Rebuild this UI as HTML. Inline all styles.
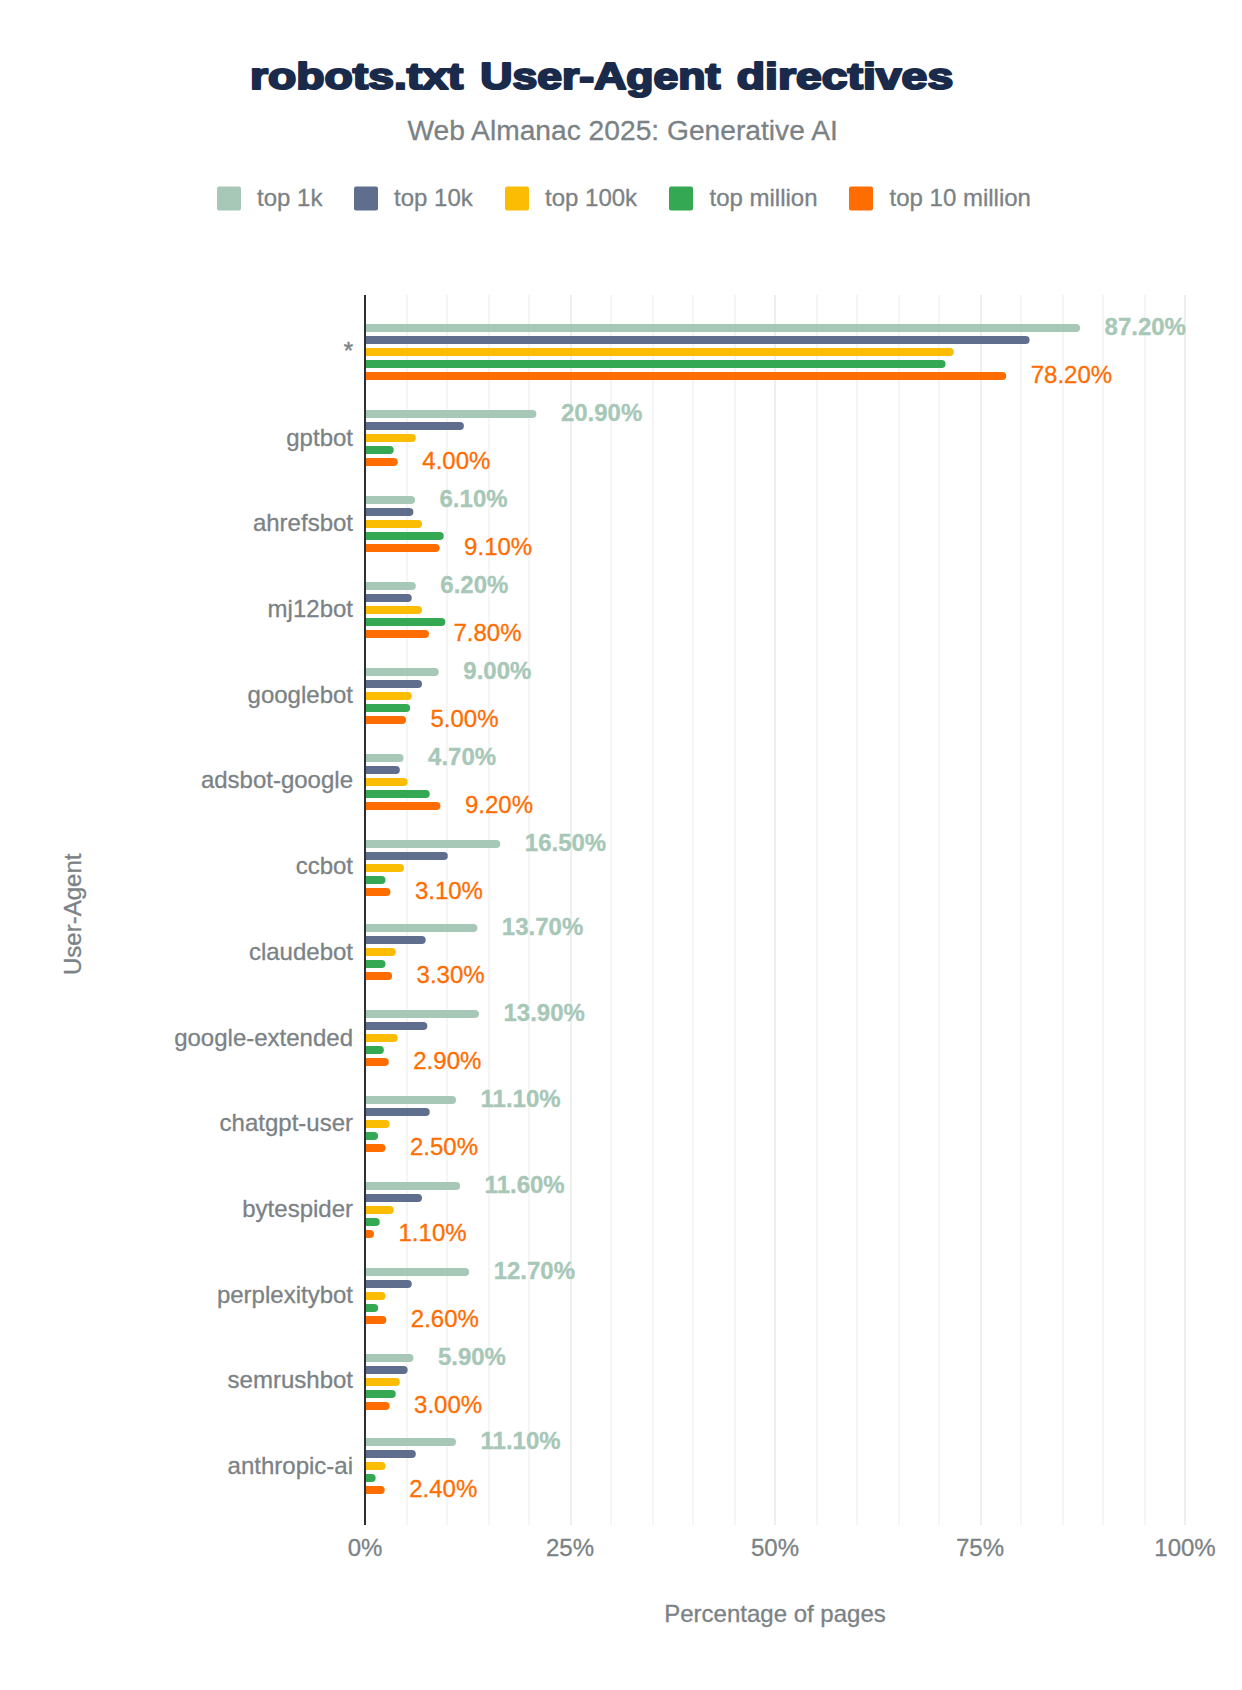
<!DOCTYPE html>
<html><head><meta charset="utf-8"><title>robots.txt User-Agent directives</title>
<style>
html,body{margin:0;padding:0;background:#fff;width:1242px;height:1690px;overflow:hidden}
svg{display:block}
text{font-family:"Liberation Sans", sans-serif}
.title{font-size:37.8px;font-weight:bold;fill:#1a2a4b;stroke:#1a2a4b;stroke-width:2.2px;stroke-linejoin:round}
.sub{font-size:28.2px;fill:#7b8285;stroke:#7b8285;stroke-width:0.3px;text-anchor:middle}
.leg{font-size:24px;fill:#7b8285;stroke:#7b8285;stroke-width:0.3px}
.cat{font-size:24px;fill:#7b8285;stroke:#7b8285;stroke-width:0.3px;text-anchor:end}
.tick{font-size:24px;fill:#7b8285;stroke:#7b8285;stroke-width:0.3px;text-anchor:middle}
.axt{font-size:24px;fill:#7b8285;stroke:#7b8285;stroke-width:0.3px;text-anchor:middle}
.lb1{font-size:24px;font-weight:bold;fill:#a7c7b7;stroke:#a7c7b7;stroke-width:0.3px}
.lb5{font-size:24px;fill:#ff6d01;stroke:#ff6d01;stroke-width:0.3px}
</style></head>
<body>
<svg width="1242" height="1690" viewBox="0 0 1242 1690">
<rect width="1242" height="1690" fill="#fff"/>
<text x="100" y="89.4" class="title" transform="translate(127.72 0) scale(1.2236 1)">robots.txt</text>
<text x="100" y="89.4" class="title" transform="translate(362.43 0) scale(1.1789 1)">User-Agent</text>
<text x="100" y="89.4" class="title" transform="translate(614.15 0) scale(1.2263 1)">directives</text>
<text x="622.6" y="140" class="sub">Web Almanac 2025: Generative AI</text>
<rect x="217" y="186.5" width="24" height="24" rx="2" fill="#a7c7b7"/>
<text x="257" y="206" class="leg">top 1k</text>
<rect x="354" y="186.5" width="24" height="24" rx="2" fill="#5f6e8c"/>
<text x="394" y="206" class="leg">top 10k</text>
<rect x="505" y="186.5" width="24" height="24" rx="2" fill="#fbbc04"/>
<text x="545" y="206" class="leg">top 100k</text>
<rect x="669" y="186.5" width="24" height="24" rx="2" fill="#34a853"/>
<text x="709.5" y="206" class="leg">top million</text>
<rect x="849" y="186.5" width="24" height="24" rx="2" fill="#ff6d01"/>
<text x="889.5" y="206" class="leg">top 10 million</text>
<rect x="406" y="295" width="2" height="1230" fill="#f5f5f5"/>
<rect x="446" y="295" width="2" height="1230" fill="#f5f5f5"/>
<rect x="488" y="295" width="2" height="1230" fill="#f5f5f5"/>
<rect x="528" y="295" width="2" height="1230" fill="#f5f5f5"/>
<rect x="570" y="295" width="2" height="1230" fill="#efeeef"/>
<rect x="610" y="295" width="2" height="1230" fill="#f5f5f5"/>
<rect x="652" y="295" width="2" height="1230" fill="#f5f5f5"/>
<rect x="692" y="295" width="2" height="1230" fill="#f5f5f5"/>
<rect x="734" y="295" width="2" height="1230" fill="#f5f5f5"/>
<rect x="774" y="295" width="2" height="1230" fill="#efeeef"/>
<rect x="816" y="295" width="2" height="1230" fill="#f5f5f5"/>
<rect x="856" y="295" width="2" height="1230" fill="#f5f5f5"/>
<rect x="898" y="295" width="2" height="1230" fill="#f5f5f5"/>
<rect x="938" y="295" width="2" height="1230" fill="#f5f5f5"/>
<rect x="980" y="295" width="2" height="1230" fill="#efeeef"/>
<rect x="1020" y="295" width="2" height="1230" fill="#f5f5f5"/>
<rect x="1062" y="295" width="2" height="1230" fill="#f5f5f5"/>
<rect x="1102" y="295" width="2" height="1230" fill="#f5f5f5"/>
<rect x="1144" y="295" width="2" height="1230" fill="#f5f5f5"/>
<rect x="1184" y="295" width="2" height="1230" fill="#efeeef"/>
<path d="M365 324H1076.04A4 4 0 0 1 1080.04 328A4 4 0 0 1 1076.04 332H365Z" fill="#a7c7b7"/>
<path d="M365 336H1025.61A4 4 0 0 1 1029.61 340A4 4 0 0 1 1025.61 344H365Z" fill="#5f6e8c"/>
<path d="M365 348H949.76A4 4 0 0 1 953.76 352A4 4 0 0 1 949.76 356H365Z" fill="#fbbc04"/>
<path d="M365 360H941.56A4 4 0 0 1 945.56 364A4 4 0 0 1 941.56 368H365Z" fill="#34a853"/>
<path d="M365 372H1002.24A4 4 0 0 1 1006.24 376A4 4 0 0 1 1002.24 380H365Z" fill="#ff6d01"/>
<text x="1104.54" y="334.5" class="lb1">87.20%</text>
<text x="1030.74" y="382.5" class="lb5">78.20%</text>
<text x="353" y="358.6" class="cat" style="stroke:#7b8285;stroke-width:0.45px">*</text>
<path d="M365 410H532.38A4 4 0 0 1 536.38 414A4 4 0 0 1 532.38 418H365Z" fill="#a7c7b7"/>
<path d="M365 422H459.89A4 4 0 0 1 463.89 426A4 4 0 0 1 459.89 430H365Z" fill="#5f6e8c"/>
<path d="M365 434H411.84A4 4 0 0 1 415.84 438A4 4 0 0 1 411.84 442H365Z" fill="#fbbc04"/>
<path d="M365 446H389.7A4 4 0 0 1 393.7 450A4 4 0 0 1 389.7 454H365Z" fill="#34a853"/>
<path d="M365 458H393.8A4 4 0 0 1 397.8 462A4 4 0 0 1 393.8 466H365Z" fill="#ff6d01"/>
<text x="560.88" y="420.5" class="lb1">20.90%</text>
<text x="422.3" y="468.5" class="lb5">4.00%</text>
<text x="353" y="445.69" class="cat">gptbot</text>
<path d="M365 496H411.02A4 4 0 0 1 415.02 500A4 4 0 0 1 411.02 504H365Z" fill="#a7c7b7"/>
<path d="M365 508H409.38A4 4 0 0 1 413.38 512A4 4 0 0 1 409.38 516H365Z" fill="#5f6e8c"/>
<path d="M365 520H417.99A4 4 0 0 1 421.99 524A4 4 0 0 1 417.99 528H365Z" fill="#fbbc04"/>
<path d="M365 532H439.72A4 4 0 0 1 443.72 536A4 4 0 0 1 439.72 540H365Z" fill="#34a853"/>
<path d="M365 544H435.62A4 4 0 0 1 439.62 548A4 4 0 0 1 435.62 552H365Z" fill="#ff6d01"/>
<text x="439.52" y="506.5" class="lb1">6.10%</text>
<text x="464.12" y="554.5" class="lb5">9.10%</text>
<text x="353" y="531.38" class="cat">ahrefsbot</text>
<path d="M365 582H411.84A4 4 0 0 1 415.84 586A4 4 0 0 1 411.84 590H365Z" fill="#a7c7b7"/>
<path d="M365 594H407.74A4 4 0 0 1 411.74 598A4 4 0 0 1 407.74 602H365Z" fill="#5f6e8c"/>
<path d="M365 606H417.99A4 4 0 0 1 421.99 610A4 4 0 0 1 417.99 614H365Z" fill="#fbbc04"/>
<path d="M365 618H441.36A4 4 0 0 1 445.36 622A4 4 0 0 1 441.36 626H365Z" fill="#34a853"/>
<path d="M365 630H424.96A4 4 0 0 1 428.96 634A4 4 0 0 1 424.96 638H365Z" fill="#ff6d01"/>
<text x="440.34" y="592.5" class="lb1">6.20%</text>
<text x="453.46" y="640.5" class="lb5">7.80%</text>
<text x="353" y="617.07" class="cat">mj12bot</text>
<path d="M365 668H434.8A4 4 0 0 1 438.8 672A4 4 0 0 1 434.8 676H365Z" fill="#a7c7b7"/>
<path d="M365 680H417.99A4 4 0 0 1 421.99 684A4 4 0 0 1 417.99 688H365Z" fill="#5f6e8c"/>
<path d="M365 692H407.74A4 4 0 0 1 411.74 696A4 4 0 0 1 407.74 700H365Z" fill="#fbbc04"/>
<path d="M365 704H406.1A4 4 0 0 1 410.1 708A4 4 0 0 1 406.1 712H365Z" fill="#34a853"/>
<path d="M365 716H402A4 4 0 0 1 406 720A4 4 0 0 1 402 724H365Z" fill="#ff6d01"/>
<text x="463.3" y="678.5" class="lb1">9.00%</text>
<text x="430.5" y="726.5" class="lb5">5.00%</text>
<text x="353" y="702.76" class="cat">googlebot</text>
<path d="M365 754H399.54A4 4 0 0 1 403.54 758A4 4 0 0 1 399.54 762H365Z" fill="#a7c7b7"/>
<path d="M365 766H395.85A4 4 0 0 1 399.85 770A4 4 0 0 1 395.85 774H365Z" fill="#5f6e8c"/>
<path d="M365 778H403.64A4 4 0 0 1 407.64 782A4 4 0 0 1 403.64 786H365Z" fill="#fbbc04"/>
<path d="M365 790H425.78A4 4 0 0 1 429.78 794A4 4 0 0 1 425.78 798H365Z" fill="#34a853"/>
<path d="M365 802H436.44A4 4 0 0 1 440.44 806A4 4 0 0 1 436.44 810H365Z" fill="#ff6d01"/>
<text x="428.04" y="764.5" class="lb1">4.70%</text>
<text x="464.94" y="812.5" class="lb5">9.20%</text>
<text x="353" y="788.45" class="cat">adsbot-google</text>
<path d="M365 840H496.3A4 4 0 0 1 500.3 844A4 4 0 0 1 496.3 848H365Z" fill="#a7c7b7"/>
<path d="M365 852H443.82A4 4 0 0 1 447.82 856A4 4 0 0 1 443.82 860H365Z" fill="#5f6e8c"/>
<path d="M365 864H400.03A4 4 0 0 1 404.03 868A4 4 0 0 1 400.03 872H365Z" fill="#fbbc04"/>
<path d="M365 876H381.5A4 4 0 0 1 385.5 880A4 4 0 0 1 381.5 884H365Z" fill="#34a853"/>
<path d="M365 888H386.42A4 4 0 0 1 390.42 892A4 4 0 0 1 386.42 896H365Z" fill="#ff6d01"/>
<text x="524.8" y="850.5" class="lb1">16.50%</text>
<text x="414.92" y="898.5" class="lb5">3.10%</text>
<text x="353" y="874.14" class="cat">ccbot</text>
<path d="M365 924H473.34A4 4 0 0 1 477.34 928A4 4 0 0 1 473.34 932H365Z" fill="#a7c7b7"/>
<path d="M365 936H421.68A4 4 0 0 1 425.68 940A4 4 0 0 1 421.68 944H365Z" fill="#5f6e8c"/>
<path d="M365 948H391.75A4 4 0 0 1 395.75 952A4 4 0 0 1 391.75 956H365Z" fill="#fbbc04"/>
<path d="M365 960H381.5A4 4 0 0 1 385.5 964A4 4 0 0 1 381.5 968H365Z" fill="#34a853"/>
<path d="M365 972H388.06A4 4 0 0 1 392.06 976A4 4 0 0 1 388.06 980H365Z" fill="#ff6d01"/>
<text x="501.84" y="934.5" class="lb1">13.70%</text>
<text x="416.56" y="982.5" class="lb5">3.30%</text>
<text x="353" y="959.83" class="cat">claudebot</text>
<path d="M365 1010H474.98A4 4 0 0 1 478.98 1014A4 4 0 0 1 474.98 1018H365Z" fill="#a7c7b7"/>
<path d="M365 1022H423.32A4 4 0 0 1 427.32 1026A4 4 0 0 1 423.32 1030H365Z" fill="#5f6e8c"/>
<path d="M365 1034H393.8A4 4 0 0 1 397.8 1038A4 4 0 0 1 393.8 1042H365Z" fill="#fbbc04"/>
<path d="M365 1046H379.86A4 4 0 0 1 383.86 1050A4 4 0 0 1 379.86 1054H365Z" fill="#34a853"/>
<path d="M365 1058H384.78A4 4 0 0 1 388.78 1062A4 4 0 0 1 384.78 1066H365Z" fill="#ff6d01"/>
<text x="503.48" y="1020.5" class="lb1">13.90%</text>
<text x="413.28" y="1068.5" class="lb5">2.90%</text>
<text x="353" y="1045.52" class="cat">google-extended</text>
<path d="M365 1096H452.02A4 4 0 0 1 456.02 1100A4 4 0 0 1 452.02 1104H365Z" fill="#a7c7b7"/>
<path d="M365 1108H425.78A4 4 0 0 1 429.78 1112A4 4 0 0 1 425.78 1116H365Z" fill="#5f6e8c"/>
<path d="M365 1120H385.6A4 4 0 0 1 389.6 1124A4 4 0 0 1 385.6 1128H365Z" fill="#fbbc04"/>
<path d="M365 1132H374.12A4 4 0 0 1 378.12 1136A4 4 0 0 1 374.12 1140H365Z" fill="#34a853"/>
<path d="M365 1144H381.5A4 4 0 0 1 385.5 1148A4 4 0 0 1 381.5 1152H365Z" fill="#ff6d01"/>
<text x="480.52" y="1106.5" class="lb1">11.10%</text>
<text x="410" y="1154.5" class="lb5">2.50%</text>
<text x="353" y="1131.21" class="cat">chatgpt-user</text>
<path d="M365 1182H456.12A4 4 0 0 1 460.12 1186A4 4 0 0 1 456.12 1190H365Z" fill="#a7c7b7"/>
<path d="M365 1194H417.99A4 4 0 0 1 421.99 1198A4 4 0 0 1 417.99 1202H365Z" fill="#5f6e8c"/>
<path d="M365 1206H389.7A4 4 0 0 1 393.7 1210A4 4 0 0 1 389.7 1214H365Z" fill="#fbbc04"/>
<path d="M365 1218H375.76A4 4 0 0 1 379.76 1222A4 4 0 0 1 375.76 1226H365Z" fill="#34a853"/>
<path d="M365 1230H370.02A4 4 0 0 1 374.02 1234A4 4 0 0 1 370.02 1238H365Z" fill="#ff6d01"/>
<text x="484.62" y="1192.5" class="lb1">11.60%</text>
<text x="398.52" y="1240.5" class="lb5">1.10%</text>
<text x="353" y="1216.9" class="cat">bytespider</text>
<path d="M365 1268H465.14A4 4 0 0 1 469.14 1272A4 4 0 0 1 465.14 1276H365Z" fill="#a7c7b7"/>
<path d="M365 1280H407.74A4 4 0 0 1 411.74 1284A4 4 0 0 1 407.74 1288H365Z" fill="#5f6e8c"/>
<path d="M365 1292H381.5A4 4 0 0 1 385.5 1296A4 4 0 0 1 381.5 1300H365Z" fill="#fbbc04"/>
<path d="M365 1304H374.12A4 4 0 0 1 378.12 1308A4 4 0 0 1 374.12 1312H365Z" fill="#34a853"/>
<path d="M365 1316H382.32A4 4 0 0 1 386.32 1320A4 4 0 0 1 382.32 1324H365Z" fill="#ff6d01"/>
<text x="493.64" y="1278.5" class="lb1">12.70%</text>
<text x="410.82" y="1326.5" class="lb5">2.60%</text>
<text x="353" y="1302.59" class="cat">perplexitybot</text>
<path d="M365 1354H409.38A4 4 0 0 1 413.38 1358A4 4 0 0 1 409.38 1362H365Z" fill="#a7c7b7"/>
<path d="M365 1366H403.64A4 4 0 0 1 407.64 1370A4 4 0 0 1 403.64 1374H365Z" fill="#5f6e8c"/>
<path d="M365 1378H395.85A4 4 0 0 1 399.85 1382A4 4 0 0 1 395.85 1386H365Z" fill="#fbbc04"/>
<path d="M365 1390H391.75A4 4 0 0 1 395.75 1394A4 4 0 0 1 391.75 1398H365Z" fill="#34a853"/>
<path d="M365 1402H385.6A4 4 0 0 1 389.6 1406A4 4 0 0 1 385.6 1410H365Z" fill="#ff6d01"/>
<text x="437.88" y="1364.5" class="lb1">5.90%</text>
<text x="414.1" y="1412.5" class="lb5">3.00%</text>
<text x="353" y="1388.28" class="cat">semrushbot</text>
<path d="M365 1438H452.02A4 4 0 0 1 456.02 1442A4 4 0 0 1 452.02 1446H365Z" fill="#a7c7b7"/>
<path d="M365 1450H411.84A4 4 0 0 1 415.84 1454A4 4 0 0 1 411.84 1458H365Z" fill="#5f6e8c"/>
<path d="M365 1462H381.5A4 4 0 0 1 385.5 1466A4 4 0 0 1 381.5 1470H365Z" fill="#fbbc04"/>
<path d="M365 1474H371.66A4 4 0 0 1 375.66 1478A4 4 0 0 1 371.66 1482H365Z" fill="#34a853"/>
<path d="M365 1486H380.68A4 4 0 0 1 384.68 1490A4 4 0 0 1 380.68 1494H365Z" fill="#ff6d01"/>
<text x="480.52" y="1448.5" class="lb1">11.10%</text>
<text x="409.18" y="1496.5" class="lb5">2.40%</text>
<text x="353" y="1473.97" class="cat">anthropic-ai</text>
<rect x="364" y="295" width="2" height="1230" fill="#2c2f33"/>
<text x="365" y="1556" class="tick">0%</text>
<text x="570" y="1556" class="tick">25%</text>
<text x="775" y="1556" class="tick">50%</text>
<text x="980" y="1556" class="tick">75%</text>
<text x="1185" y="1556" class="tick">100%</text>
<text x="775" y="1621.5" class="axt">Percentage of pages</text>
<text transform="translate(81,914.3) rotate(-90)" x="0" y="0" class="axt">User-Agent</text>
</svg>
</body></html>
